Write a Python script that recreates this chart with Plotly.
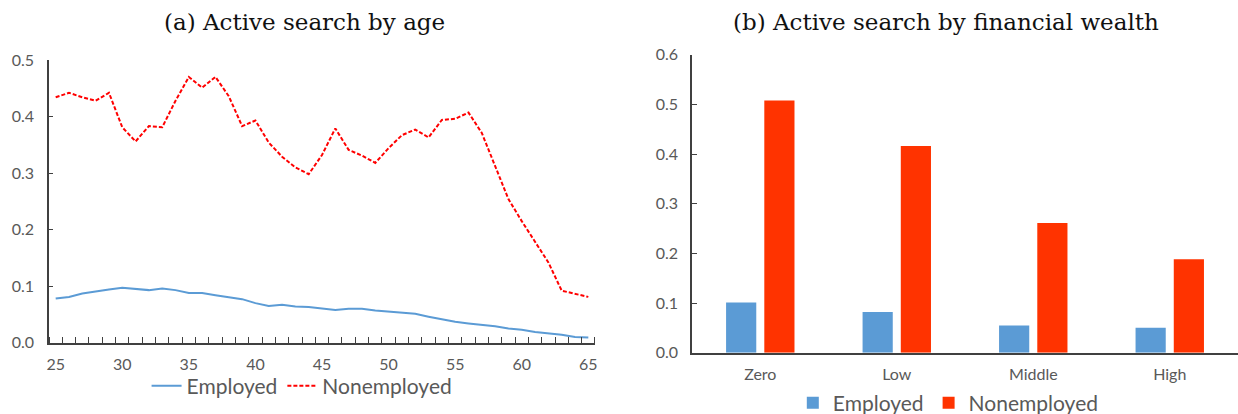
import plotly.graph_objects as go

# Panel (a): share actively searching, by age
ages = list(range(25, 66))
employed_by_age = [
    0.078, 0.081, 0.087, 0.091, 0.094, 0.097, 0.095, 0.093, 0.096, 0.093,
    0.088, 0.088, 0.084, 0.081, 0.077, 0.070, 0.065, 0.067, 0.064, 0.063,
    0.061, 0.058, 0.060, 0.060, 0.057, 0.055, 0.052, 0.051, 0.046, 0.041,
    0.037, 0.034, 0.032, 0.029, 0.025, 0.023, 0.019, 0.017, 0.014, 0.010,
    0.009,
]
nonemployed_by_age = [
    0.434, 0.442, 0.434, 0.428, 0.442, 0.381, 0.356, 0.383, 0.381, 0.428,
    0.470, 0.451, 0.470, 0.436, 0.383, 0.393, 0.354, 0.329, 0.310, 0.298,
    0.332, 0.379, 0.341, 0.331, 0.318, 0.344, 0.367, 0.377, 0.363, 0.394,
    0.396, 0.407, 0.371, 0.314, 0.254, 0.215, 0.178, 0.142, 0.092, 0.087,
    0.081,
]

# Panel (b): share actively searching, by financial wealth group
wealth_groups = ["Zero", "Low", "Middle", "High"]
employed_by_wealth = [0.101, 0.082, 0.055, 0.050]
nonemployed_by_wealth = [0.508, 0.416, 0.261, 0.188]

age_ticks = list(range(25, 66, 5))
left_yticks = [0.0, 0.1, 0.2, 0.3, 0.4, 0.5]
right_yticks = [0.0, 0.1, 0.2, 0.3, 0.4, 0.5, 0.6]

BLUE = "#5B9BD5"
RED_LINE = "#FF0000"
RED_BAR = "#FF3300"
AXIS = "#404040"
TEXT = "#595959"
SANS = "Lato, Carlito, sans-serif"
TICK_FONT = dict(family=SANS, size=16, color=TEXT)
TITLE_FONT = dict(family="DejaVu Serif, serif", size=23, color="#111111")
H = 414

fig = go.Figure()

fig.add_trace(go.Scatter(
    x=ages, y=employed_by_age, mode="lines", name="Employed",
    line=dict(color=BLUE, width=2), xaxis="x", yaxis="y", legend="legend",
))
fig.add_trace(go.Scatter(
    x=ages, y=nonemployed_by_age, mode="lines", name="Nonemployed",
    line=dict(color=RED_LINE, width=2, dash="4px,2px"),
    xaxis="x", yaxis="y", legend="legend",
))

fig.add_trace(go.Bar(
    x=wealth_groups, y=employed_by_wealth, name="Employed",
    marker=dict(color=BLUE, line=dict(width=0)),
    xaxis="x2", yaxis="y2", legend="legend2",
))
fig.add_trace(go.Bar(
    x=wealth_groups, y=nonemployed_by_wealth, name="Nonemployed",
    marker=dict(color=RED_BAR, line=dict(width=0)),
    xaxis="x2", yaxis="y2", legend="legend2",
))

fig.update_layout(
    width=1238, height=H,
    margin=dict(l=0, r=0, t=0, b=0, autoexpand=False),
    paper_bgcolor="white", plot_bgcolor="white",
    barmode="group", bargap=0.44, bargroupgap=0.21,
    xaxis=dict(
        domain=[0.0396, 0.4806], range=[24.5, 65.5],
        tickmode="array", tickvals=age_ticks, ticks="",
        ticklabelstandoff=6,
        showline=True, linecolor=AXIS, linewidth=1.5,
        showgrid=False, zeroline=False, tickfont=TICK_FONT,
        minor=dict(tickmode="linear", tick0=24.5, dtick=1,
                   ticks="inside", ticklen=6, tickcolor=AXIS, showgrid=False),
        anchor="y",
    ),
    yaxis=dict(
        domain=[1 - 342.7 / H, 1 - 60 / H], range=[0, 0.5],
        tickmode="array", tickvals=left_yticks, tickformat=".1f",
        ticks="inside", ticklen=4, tickcolor=AXIS,
        ticklabelstandoff=10,
        showline=True, linecolor=AXIS, linewidth=1.5,
        showgrid=False, zeroline=False, tickfont=TICK_FONT,
        anchor="x",
    ),
    xaxis2=dict(
        domain=[0.559, 1.0],
        showline=True, linecolor=AXIS, linewidth=1.5, ticks="",
        ticklabelstandoff=6,
        showgrid=False, zeroline=False, tickfont=TICK_FONT,
        anchor="y2",
    ),
    yaxis2=dict(
        domain=[1 - 352.7 / H, 1 - 54.7 / H], range=[0, 0.6],
        tickmode="array", tickvals=right_yticks, tickformat=".1f",
        ticks="inside", ticklen=5, tickcolor=AXIS,
        ticklabelstandoff=9,
        showline=True, linecolor=AXIS, linewidth=1.5,
        showgrid=False, zeroline=False, tickfont=TICK_FONT,
        anchor="x2",
    ),
    legend=dict(
        orientation="h", x=0.244, xanchor="center", y=1 - 386 / H,
        yanchor="middle",
        font=dict(family=SANS, size=21, color=TEXT),
        bgcolor="rgba(0,0,0,0)", itemwidth=30,
    ),
    legend2=dict(
        orientation="h", x=0.766, xanchor="center", y=1 - 403 / H,
        yanchor="middle",
        font=dict(family=SANS, size=21, color=TEXT),
        bgcolor="rgba(0,0,0,0)", itemwidth=30,
    ),
    annotations=[
        dict(text="(a) Active search by age", x=0.2456, y=1 - 22 / H,
             xref="paper", yref="paper", xanchor="center", yanchor="middle",
             showarrow=False, font=TITLE_FONT),
        dict(text="(b) Active search by financial wealth", x=0.764,
             y=1 - 22 / H, xref="paper", yref="paper", xanchor="center",
             yanchor="middle", showarrow=False, font=TITLE_FONT),
    ],
)

fig.write_html("out.html")
